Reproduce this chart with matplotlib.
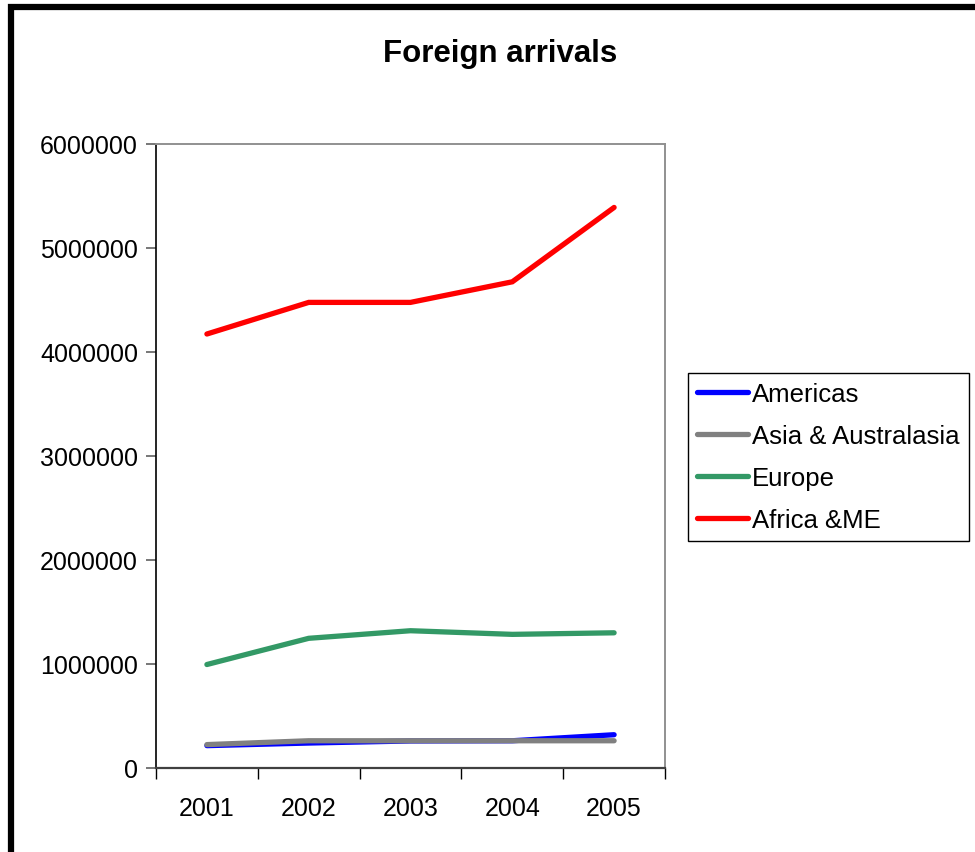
import numpy as np
import matplotlib
matplotlib.use('Agg')
import matplotlib.pyplot as plt
from matplotlib.patches import Rectangle

plt.rcParams['font.family'] = ['Liberation Sans', 'DejaVu Sans']

# data
years = ['2001', '2002', '2003', '2004', '2005']
americas = [215000, 240000, 260000, 262000, 320000]
asia = [225000, 262000, 262000, 262000, 262000]
europe = [995000, 1247000, 1320000, 1285000, 1300000]
africa_me = [4173000, 4477000, 4477000, 4675000, 5390000]

series = [
    ('Americas', americas, '#0000ff'),
    ('Asia & Australasia', asia, '#808080'),
    ('Europe', europe, '#339966'),
    ('Africa &ME', africa_me, '#ff0000'),
]

fig = plt.figure(figsize=(9.75, 8.53), dpi=100)
ax = fig.add_axes([156 / 975, 84 / 853, 509 / 975, 624 / 853])

x = np.arange(len(years))
for name, vals, col in series:
    ax.plot(x, vals, color=col, lw=3.8, label=name,
            solid_capstyle='round', solid_joinstyle='miter')

# axes limits and ticks
ax.set_xlim(-0.5, len(years) - 0.5)
ax.set_ylim(0, 6000000)
ax.set_yticks(np.arange(0, 6000001, 1000000))
ax.set_yticklabels([str(v) for v in range(0, 6000001, 1000000)])
ax.set_xticks(x)
ax.set_xticklabels(years)
ax.set_xticks(np.arange(-0.5, len(years)), minor=True)
ax.tick_params(axis='x', which='major', length=0, pad=20, labelsize=18)
ax.tick_params(axis='x', which='minor', length=8, width=1, color='black')
ax.tick_params(axis='y', length=7, width=1.2, color='#606060', pad=6,
               labelsize=18)

for side in ['top', 'right']:
    ax.spines[side].set_color('#909090')
    ax.spines[side].set_linewidth(1.4)
ax.spines['left'].set_color('black')
ax.spines['left'].set_linewidth(1.2)
ax.spines['bottom'].set_color('#404040')
ax.spines['bottom'].set_linewidth(1.6)

# title
fig.text(500 / 975, 1 - 54 / 853, 'Foreign arrivals', ha='center',
         va='center', fontsize=22.5, fontweight='bold')

# legend
leg = fig.legend(loc='upper left', bbox_to_anchor=(688 / 975, 1 - 374 / 853),
                 fontsize=18.5, frameon=True, fancybox=False,
                 edgecolor='black', framealpha=1, borderaxespad=0,
                 handlelength=2.0, handletextpad=0.15, labelspacing=0.7,
                 borderpad=0.35)
leg.get_frame().set_linewidth(1.0)

# outer chart border
fig.patches.append(Rectangle((11 / 975, -0.1), 1.2, 1.1 - 8 / 853,
                             transform=fig.transFigure, fill=False,
                             edgecolor='black', lw=4.5))

plt.savefig('out.png', dpi=100)
